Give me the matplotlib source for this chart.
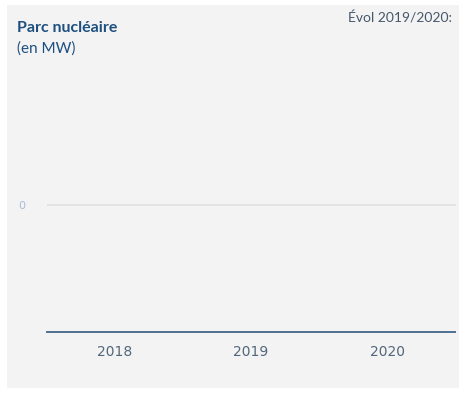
import matplotlib
matplotlib.use('Agg')
import matplotlib.pyplot as plt
import matplotlib.patches as patches

years = ["2018", "2019", "2020"]
capacity_mw = [0, 0, 0]
y_ticks = [0]

fig = plt.figure(figsize=(4.59, 3.96), dpi=100)
fig.patch.set_facecolor('white')

# grey card behind the chart
card = patches.Rectangle((7 / 459, 8 / 396), 452 / 459, 383 / 396,
                         transform=fig.transFigure, facecolor='#f3f3f3',
                         edgecolor='none', zorder=-5)
fig.patches.append(card)

ax = fig.add_axes([46.5 / 459, 64 / 396, 409 / 459, 254 / 396])
ax.set_zorder(2)
ax.set_facecolor('none')

x = range(len(years))
ax.bar(x, capacity_mw, width=0.6, color='#1f4e85')

ax.set_xlim(-0.5, len(years) - 0.5)
ax.set_ylim(-1, 1)
ax.set_xticks(list(x))
ax.set_xticklabels(years, fontsize=10, color='#53677b', family='DejaVu Sans')
ax.set_yticks(y_ticks)
ax.set_yticklabels([str(v) for v in y_ticks], fontsize=8, color='#a9bdd6')
ax.tick_params(axis='x', length=0, pad=9)
ax.tick_params(axis='y', length=0, pad=15)

ax.axhline(0, color='#e2e2e2', linewidth=1.3, zorder=1)
for side in ['top', 'right', 'left']:
    ax.spines[side].set_visible(False)
ax.spines['bottom'].set_color('#4e7091')
ax.spines['bottom'].set_linewidth(1.4)

fig.text(17 / 459, 1 - 28 / 396, "Parc nucléaire", fontsize=11.5, fontweight='bold',
         family='Lato', color='#1d4f80', va='center', ha='left')
fig.text(17 / 459, 1 - 49 / 396, "(en MW)", fontsize=11, family='Lato',
         color='#1d4f80', va='center', ha='left')
fig.text(452 / 459, 1 - 18 / 396, "Évol 2019/2020:", fontsize=10, family='Lato',
         color='#45586a', va='center', ha='right')

fig.savefig('out.png', dpi=100, facecolor=fig.get_facecolor())
